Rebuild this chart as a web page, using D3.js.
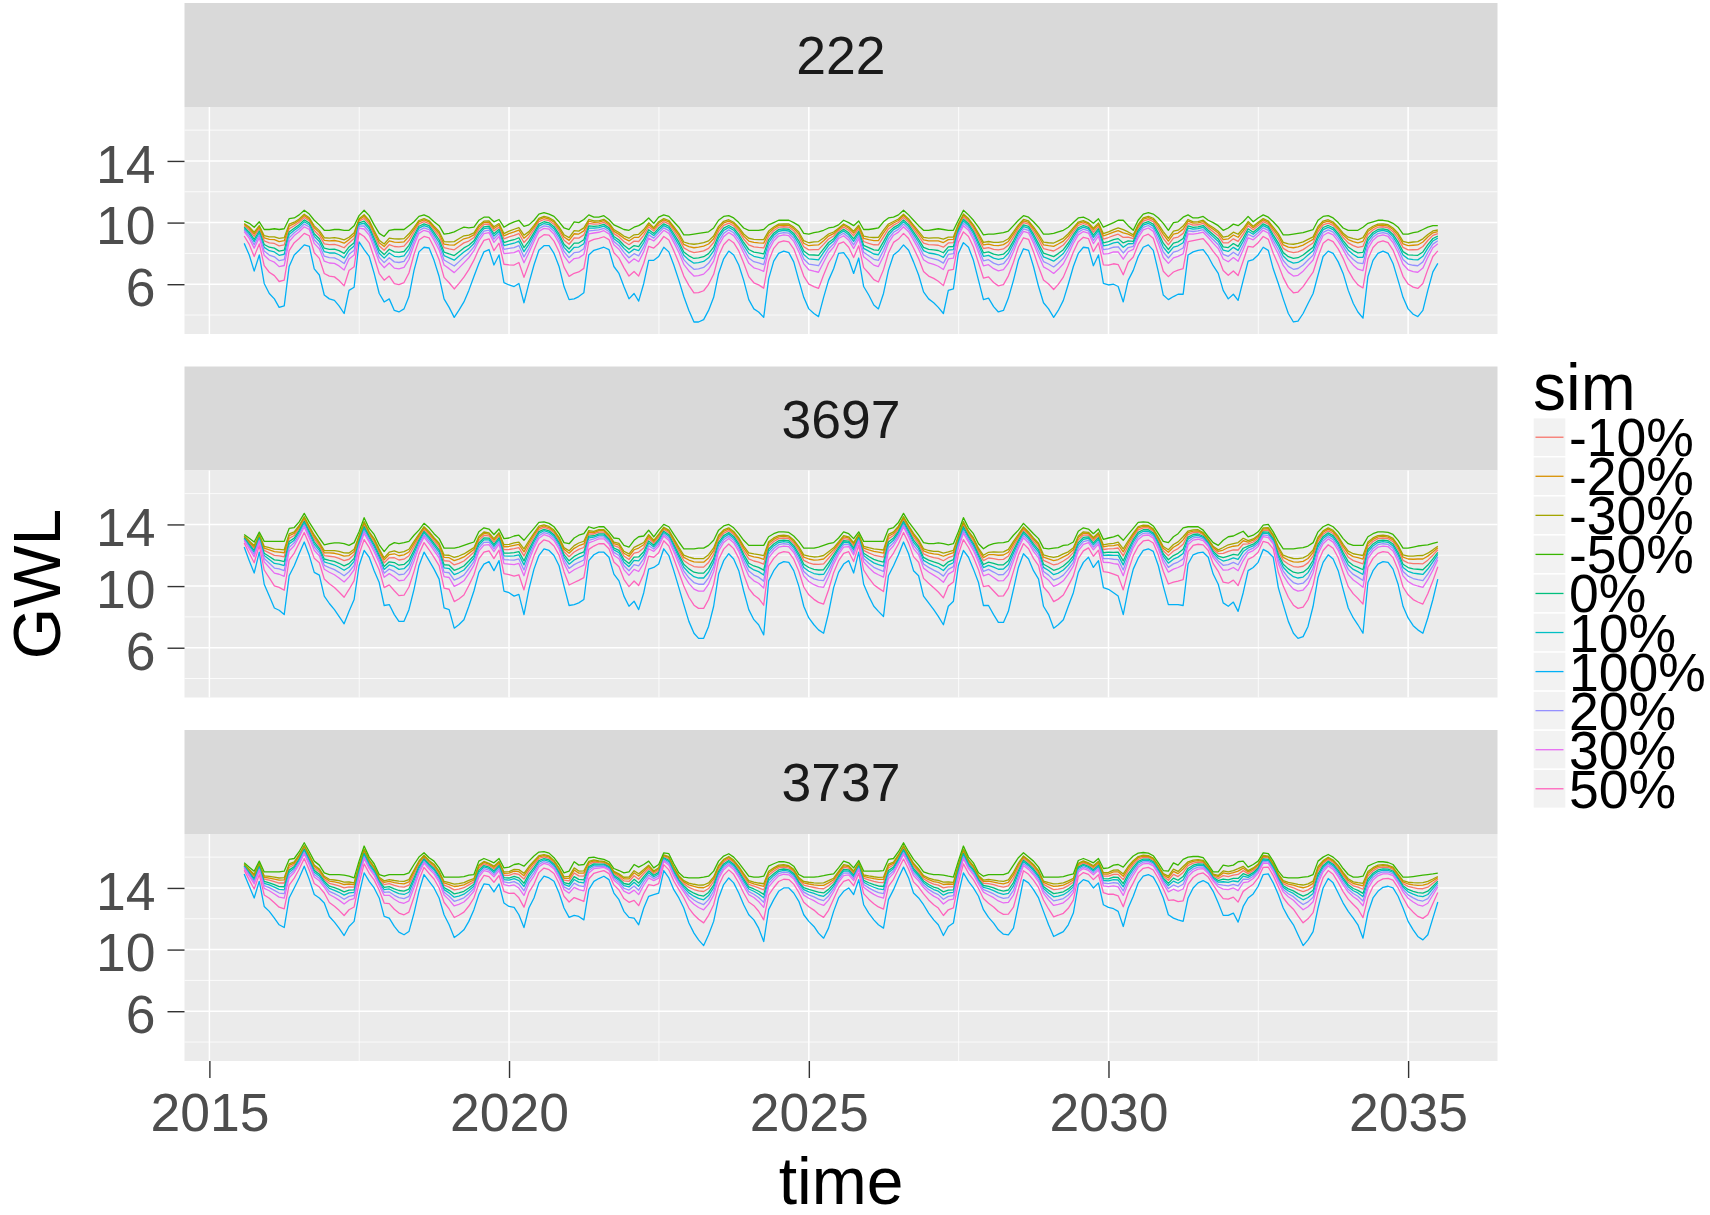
<!DOCTYPE html>
<html>
<head>
<meta charset="utf-8">
<script src="https://cdnjs.cloudflare.com/ajax/libs/d3/7.8.5/d3.min.js"></script>
<style>
  body { margin: 0; background: #fff; }
  text { font-family: "Liberation Sans", Arial, sans-serif; }
</style>
</head>
<body>
<svg width="1710" height="1215"></svg>
<script>
// monthly series, first value = Aug 2015
var firstMonth = new Date(2015, 7, 1);

var sites = ["222", "3697", "3737"];

// legend order (ggplot factor order) and colours
var sims = ["-10%", "-20%", "-30%", "-50%", "0%", "10%", "100%", "20%", "30%", "50%"];
var simColors = ["#F8766D", "#D89000", "#A3A500", "#39B600", "#00BF7D",
                 "#00BFC4", "#00B0F6", "#9590FF", "#E76BF3", "#FF62BC"];
var simShare = [0.21, 0.155, 0.115, 0, 0.277, 0.331, 1, 0.40, 0.477, 0.668];

// -50% run (highest line) and 100% run (lowest line) per site
var top222 = [
  10.1, 9.95, 9.7, 10.05, 9.55, 9.55, 9.6, 9.55, 9.6, 10.25,
  10.3, 10.5, 10.8, 10.55, 10.15, 9.85, 9.5, 9.5, 9.55, 9.55,
  9.5, 9.5, 9.8, 10.45, 10.8, 10.45, 9.85, 9.3, 9.1, 9.5,
  9.55, 9.55, 9.55, 9.8, 10.05, 10.4, 10.5, 10.35, 10.05, 9.8,
  9.25, 9.3, 9.4, 9.55, 9.7, 9.65, 9.7, 10.15, 10.35, 10.35,
  10.05, 10.2, 9.7, 9.9, 10.05, 10.15, 9.75, 9.85, 10.15, 10.55,
  10.65, 10.55, 10.4, 10.05, 9.65, 9.55, 10.05, 10.0, 10.2, 10.5,
  10.35, 10.35, 10.45, 10.2, 9.85, 9.7, 9.55, 9.5, 9.7, 9.8,
  10.0, 10.3, 9.95, 10.35, 10.5, 10.4, 10.05, 9.7, 9.2, 9.2,
  9.25, 9.3, 9.35, 9.4, 9.65, 10.15, 10.4, 10.45, 10.3, 10.0,
  9.65, 9.5, 9.5, 9.5, 9.55, 9.85, 10.0, 10.15, 10.15, 10.15,
  10.0, 9.8, 9.3, 9.25, 9.35, 9.4, 9.5, 9.65, 9.7, 9.85,
  10.15, 10.0, 9.8, 10.1, 9.55, 9.55, 9.6, 9.65, 10.05, 10.3,
  10.35, 10.5, 10.8, 10.5, 10.15, 9.8, 9.5, 9.5, 9.55, 9.6,
  9.55, 9.5, 9.5, 10.15, 10.8, 10.5, 10.15, 9.7, 9.2, 9.25,
  9.25, 9.3, 9.35, 9.45, 9.8, 10.15, 10.45, 10.35, 10.05, 9.7,
  9.25, 9.25, 9.3, 9.4, 9.5, 9.7, 10.0, 10.3, 10.35, 10.2,
  9.95, 10.25, 9.7, 9.85, 10.0, 10.15, 10.15, 9.8, 9.5, 10.15,
  10.55, 10.65, 10.55, 10.3, 9.95, 9.5, 10.0, 10.05, 10.35, 10.5,
  10.3, 10.3, 10.4, 10.15, 10.0, 9.8, 9.5, 9.65, 9.9, 9.8,
  10.05, 10.4, 10.05, 10.3, 10.5, 10.35, 10.05, 9.7, 9.2, 9.2,
  9.25, 9.3, 9.35, 9.45, 9.55, 10.15, 10.4, 10.45, 10.3, 10.0,
  9.65, 9.5, 9.5, 9.5, 9.7, 9.95, 10.05, 10.15, 10.15, 10.1,
  9.95, 9.7, 9.25, 9.25, 9.35, 9.4, 9.55, 9.7, 9.8, 9.8
];
var low222 = [
  8.65, 7.9, 6.85, 7.9, 6.05, 5.4, 5.05, 4.5, 4.6, 7.15,
  7.9, 8.2, 8.55, 8.45, 7.0, 6.6, 5.3, 5.05, 4.95, 4.6,
  4.1, 5.6, 5.8, 8.75, 8.25, 7.8, 6.7, 5.4, 4.85, 5.05,
  4.3, 4.2, 4.4, 5.2, 6.9, 8.1, 8.4, 8.35, 7.55, 6.5,
  5.05, 4.5, 3.85, 4.3, 4.85, 5.6, 6.5, 7.35, 8.1, 8.25,
  7.25, 7.9, 6.1, 5.95, 5.85, 6.05, 4.8, 6.05, 7.25, 8.2,
  8.5, 8.5, 8.0, 7.15, 5.85, 5.0, 5.05, 5.2, 5.45, 7.9,
  8.2, 8.3, 8.4, 8.25, 7.15, 6.7, 5.85, 5.05, 5.4, 4.9,
  6.05, 7.55, 7.55, 7.8, 8.4, 8.1, 7.25, 6.25, 5.2, 4.3,
  3.55, 3.55, 3.7, 4.3, 5.15, 6.7, 7.65, 8.15, 7.9, 7.25,
  6.25, 5.0, 4.4, 4.2, 3.85, 6.35, 7.5, 8.0, 8.15, 8.05,
  7.45, 6.25, 5.15, 4.4, 4.1, 3.9, 5.15, 6.25, 7.0, 8.0,
  8.05, 7.6, 6.7, 7.7, 5.85, 5.3, 4.65, 4.4, 5.4, 6.9,
  7.9, 8.15, 8.55, 8.2, 7.45, 6.6, 5.5, 5.05, 4.8, 4.5,
  4.1, 5.6, 5.7, 8.0, 8.7, 8.4, 7.55, 6.25, 5.0, 5.1,
  4.55, 4.2, 4.3, 5.1, 6.25, 7.55, 8.3, 8.2, 7.15, 5.85,
  4.8, 4.4, 3.85, 4.3, 4.95, 6.0, 7.15, 8.0, 8.4, 8.35,
  7.2, 7.9, 6.05, 5.95, 6.0, 5.85, 4.85, 6.25, 6.9, 7.8,
  8.4, 8.55, 8.2, 6.8, 5.3, 5.0, 5.2, 5.35, 5.35, 7.9,
  8.1, 8.2, 8.25, 7.8, 7.2, 6.7, 5.6, 5.05, 5.35, 4.95,
  6.25, 7.5, 7.6, 7.9, 8.4, 8.2, 7.0, 6.05, 5.05, 4.1,
  3.55, 3.6, 4.1, 4.75, 5.4, 6.6, 7.8, 8.15, 8.0, 7.45,
  6.7, 5.6, 4.75, 4.2, 3.8, 6.5, 7.55, 8.0, 8.15, 8.0,
  7.35, 6.25, 5.15, 4.4, 4.05, 3.9, 4.3, 5.6, 6.8, 7.35
];
var top3697 = [
  13.35, 13.1, 12.86, 13.5, 12.9, 12.9, 12.9, 12.9, 12.9, 13.74,
  13.8, 14.17, 14.72, 14.13, 13.63, 13.12, 12.68, 12.75, 12.8, 12.8,
  12.75, 12.64, 12.82, 13.52, 14.44, 13.74, 13.35, 12.68, 12.24, 12.64,
  12.82, 12.75, 12.82, 12.9, 13.3, 13.63, 14.07, 13.78, 13.4, 13.08,
  12.46, 12.46, 12.46, 12.53, 12.64, 12.75, 12.86, 13.52, 13.78, 13.7,
  13.35, 13.7, 13.08, 13.12, 13.25, 13.3, 12.97, 13.35, 13.74, 14.13,
  14.17, 14.07, 13.85, 13.4, 12.82, 12.75, 13.12, 13.3, 13.4, 13.85,
  13.74, 13.85, 13.85, 13.52, 13.12, 13.08, 12.64, 12.53, 12.97, 13.2,
  13.25, 13.63, 13.2, 13.63, 14.0, 13.85, 13.35, 12.86, 12.42, 12.42,
  12.42, 12.46, 12.46, 12.64, 12.97, 13.63, 13.9, 14.0, 13.78, 13.4,
  12.97, 12.64, 12.64, 12.64, 12.64, 13.2, 13.4, 13.52, 13.52, 13.48,
  13.25, 12.9, 12.46, 12.46, 12.46, 12.53, 12.64, 12.75, 12.82, 13.12,
  13.52, 13.4, 13.08, 13.52, 12.9, 12.9, 12.9, 12.9, 12.9, 13.7,
  13.8, 14.13, 14.72, 14.17, 13.74, 13.3, 12.82, 12.75, 12.75, 12.8,
  12.75, 12.68, 12.75, 13.52, 14.44, 13.78, 13.4, 12.75, 12.42, 12.64,
  12.75, 12.8, 12.82, 12.9, 13.3, 13.63, 14.07, 13.74, 13.4, 13.08,
  12.46, 12.42, 12.46, 12.5, 12.64, 12.68, 12.86, 13.56, 13.78, 13.7,
  13.4, 13.7, 13.03, 13.12, 13.19, 13.3, 12.97, 13.35, 13.74, 14.13,
  14.17, 14.13, 13.9, 13.4, 12.9, 12.82, 13.2, 13.4, 13.78, 13.85,
  13.85, 13.85, 13.63, 13.2, 12.82, 12.64, 12.97, 13.2, 13.25, 13.4,
  13.56, 13.2, 13.3, 13.52, 13.96, 14.0, 13.52, 12.9, 12.42, 12.42,
  12.42, 12.46, 12.5, 12.6, 12.82, 13.52, 13.85, 14.0, 13.85, 13.52,
  13.08, 12.75, 12.64, 12.64, 12.64, 13.2, 13.4, 13.52, 13.52, 13.48,
  13.35, 12.97, 12.46, 12.46, 12.53, 12.6, 12.64, 12.68, 12.77, 12.86
];
var low3697 = [
  12.53, 11.65, 10.85, 12.2, 10.12, 9.35, 8.58, 8.43, 8.15, 10.67,
  11.32, 12.1, 12.86, 11.98, 10.89, 10.71, 9.35, 8.87, 8.47, 8.03,
  7.55, 8.36, 9.13, 11.32, 12.31, 11.87, 11.0, 10.23, 8.74, 8.8,
  8.15, 7.71, 7.71, 8.47, 9.79, 11.32, 12.2, 11.65, 11.1, 10.45,
  8.58, 8.47, 7.27, 7.49, 7.82, 8.69, 9.68, 10.89, 11.43, 11.59,
  11.0, 11.65, 9.68, 9.57, 9.35, 9.46, 8.15, 9.79, 11.1, 11.98,
  12.42, 12.31, 11.98, 11.32, 10.0, 8.74, 8.8, 8.91, 9.13, 11.65,
  12.03, 12.2, 12.2, 11.87, 10.78, 10.34, 9.35, 8.69, 9.02, 8.47,
  9.57, 11.1, 11.21, 11.43, 12.42, 11.98, 11.0, 9.9, 8.8, 7.71,
  6.94, 6.61, 6.61, 7.38, 8.69, 10.78, 11.65, 12.1, 11.76, 11.0,
  9.68, 8.47, 7.82, 7.49, 6.83, 10.34, 11.0, 11.43, 11.59, 11.54,
  11.0, 10.0, 8.69, 7.93, 7.49, 7.16, 6.94, 8.25, 9.9, 10.89,
  11.43, 11.65, 10.85, 12.2, 10.12, 9.35, 8.69, 8.36, 8.03, 10.67,
  11.32, 12.03, 12.86, 12.1, 11.0, 10.67, 9.35, 8.91, 8.47, 8.03,
  7.49, 8.69, 9.02, 11.32, 12.31, 11.87, 11.1, 10.23, 8.74, 8.74,
  8.15, 7.64, 7.64, 8.36, 9.79, 11.21, 12.1, 11.76, 11.0, 10.45,
  8.69, 8.15, 7.27, 7.49, 7.82, 8.69, 9.57, 10.89, 11.54, 11.87,
  11.21, 11.65, 9.9, 9.79, 9.57, 9.35, 8.15, 9.79, 11.1, 11.81,
  12.31, 12.42, 12.25, 11.32, 10.0, 8.8, 8.8, 8.8, 8.74, 11.43,
  12.03, 12.15, 12.2, 11.87, 10.78, 10.12, 8.91, 8.69, 8.96, 8.36,
  9.57, 11.0, 11.21, 11.54, 12.38, 12.2, 11.87, 9.9, 8.8, 7.71,
  6.94, 6.61, 6.72, 7.38, 8.69, 10.56, 11.54, 12.03, 11.76, 11.0,
  9.79, 8.58, 7.93, 7.49, 6.94, 10.23, 11.0, 11.43, 11.59, 11.54,
  11.1, 10.12, 8.69, 7.93, 7.43, 7.16, 6.94, 7.93, 9.13, 10.45
];
var top3737 = [
  15.63, 15.35, 15.09, 15.74, 15.04, 15.04, 15.04, 15.04, 15.09, 15.85,
  15.91, 16.35, 16.93, 16.35, 15.74, 15.48, 14.98, 14.87, 14.87, 14.87,
  14.83, 14.76, 14.65, 15.74, 16.72, 16.0, 15.57, 14.87, 14.76, 14.87,
  14.87, 14.87, 14.87, 14.98, 15.52, 16.0, 16.28, 15.96, 15.74, 15.3,
  14.7, 14.7, 14.7, 14.7, 14.74, 14.83, 14.87, 15.74, 15.91, 15.78,
  15.63, 15.91, 15.3, 15.35, 15.52, 15.57, 15.41, 15.74, 16.07, 16.33,
  16.35, 16.26, 15.96, 15.52, 14.98, 15.09, 15.7, 15.48, 15.52, 15.96,
  16.0, 15.91, 15.85, 15.7, 15.26, 15.13, 14.98, 15.04, 15.52, 15.35,
  15.52, 15.74, 15.3, 15.52, 16.28, 16.22, 15.57, 14.98, 14.7, 14.65,
  14.65, 14.65, 14.7, 14.76, 15.09, 15.74, 16.07, 16.22, 16.0, 15.63,
  15.2, 14.76, 14.7, 14.7, 14.76, 15.41, 15.57, 15.7, 15.7, 15.63,
  15.41, 14.87, 14.7, 14.7, 14.7, 14.74, 14.8, 14.87, 14.91, 15.3,
  15.74, 15.63, 15.3, 15.78, 15.09, 15.09, 15.09, 15.09, 15.13, 15.85,
  15.91, 16.35, 16.93, 16.35, 15.85, 15.48, 15.04, 14.93, 14.87, 14.87,
  14.83, 14.76, 14.7, 15.74, 16.72, 16.0, 15.63, 14.98, 14.76, 14.87,
  14.87, 14.87, 14.87, 14.98, 15.48, 15.96, 16.28, 16.0, 15.74, 15.35,
  14.7, 14.7, 14.7, 14.7, 14.74, 14.83, 14.91, 15.78, 15.91, 15.78,
  15.63, 15.91, 15.26, 15.3, 15.48, 15.52, 15.35, 15.74, 16.07, 16.26,
  16.3, 16.26, 16.09, 15.63, 15.13, 15.09, 15.63, 15.48, 15.85, 16.0,
  16.04, 16.04, 15.96, 15.52, 15.04, 15.04, 15.48, 15.41, 15.48, 15.7,
  15.74, 15.35, 15.52, 15.74, 16.28, 16.22, 15.74, 15.09, 14.7, 14.65,
  14.65, 14.65, 14.7, 14.74, 14.87, 15.74, 16.0, 16.17, 16.0, 15.7,
  15.26, 14.87, 14.7, 14.7, 14.76, 15.41, 15.57, 15.7, 15.7, 15.65,
  15.52, 15.09, 14.7, 14.7, 14.74, 14.78, 14.83, 14.87, 14.91, 14.96
];
var low3737 = [
  14.91, 14.11, 13.35, 14.43, 12.8, 12.48, 12.04, 11.61, 11.43, 13.35,
  14.0, 14.65, 15.41, 14.54, 13.57, 13.35, 13.02, 12.15, 11.78, 11.39,
  10.91, 11.5, 11.83, 13.57, 14.98, 14.43, 14.0, 13.35, 12.15, 12.04,
  11.5, 11.13, 10.96, 11.17, 12.37, 13.78, 14.87, 14.43, 14.0, 13.35,
  12.26, 11.61, 10.78, 11.0, 11.28, 11.83, 12.59, 13.57, 14.26, 14.22,
  13.74, 14.26, 13.02, 12.8, 12.74, 12.26, 11.43, 12.7, 13.35, 14.33,
  14.76, 14.65, 14.43, 13.67, 12.7, 12.09, 12.22, 12.15, 11.93, 13.89,
  14.43, 14.61, 14.76, 14.54, 13.67, 13.24, 12.48, 12.09, 12.04, 11.61,
  12.7, 13.46, 13.57, 13.67, 15.13, 14.65, 13.89, 13.35, 12.7, 11.72,
  11.07, 10.63, 10.26, 10.96, 11.83, 13.35, 14.22, 14.65, 14.33, 13.67,
  12.91, 12.26, 11.93, 11.39, 10.52, 12.59, 13.24, 13.78, 14.0, 14.0,
  13.67, 13.13, 12.26, 11.83, 11.5, 11.07, 10.74, 11.39, 12.48, 13.35,
  13.78, 14.0, 13.57, 14.54, 12.91, 12.37, 11.93, 11.61, 11.39, 13.24,
  13.89, 14.65, 15.35, 14.65, 13.67, 13.35, 12.91, 12.37, 11.93, 11.61,
  10.91, 11.5, 11.72, 13.57, 14.98, 14.43, 14.0, 13.46, 12.59, 12.09,
  11.72, 11.28, 11.0, 10.96, 11.39, 12.91, 14.54, 14.33, 13.89, 13.35,
  12.48, 11.61, 10.85, 11.0, 11.17, 11.61, 12.37, 14.22, 14.54, 14.43,
  14.0, 14.33, 12.91, 12.74, 12.65, 12.48, 11.5, 12.7, 13.46, 14.33,
  14.76, 14.87, 14.7, 14.11, 13.35, 12.26, 12.04, 11.93, 11.83, 13.35,
  14.0, 14.33, 14.48, 14.3, 13.78, 13.02, 12.22, 12.22, 12.37, 11.78,
  12.8, 13.35, 13.61, 14.11, 14.87, 14.91, 14.33, 13.57, 12.7, 12.09,
  11.61, 10.96, 10.26, 10.63, 11.17, 12.7, 14.0, 14.61, 14.33, 13.67,
  13.02, 12.48, 12.04, 11.61, 10.74, 12.37, 13.35, 13.78, 14.04, 14.11,
  14.0, 13.46, 12.7, 11.83, 11.28, 10.85, 10.63, 10.96, 12.04, 13.09
];

var topRuns = [top222, top3697, top3737];
var lowRuns = [low222, low3697, low3737];

var yMajor = [6, 10, 14];
var yMinor = [4, 8, 12, 16];
var xYears = [2015, 2020, 2025, 2030, 2035];

var svg = d3.select("svg");

var plotLeft = 184.5, plotRight = 1497.5;
var stripTops = [3, 366.5, 730];
var stripH = 104, panelH = 227;

var months = top222.map(function(d, i) {
  return new Date(firstMonth.getFullYear(), firstMonth.getMonth() + i, 1);
});
var t0 = months[0].getTime(), t1 = months[months.length - 1].getTime();
var pad = (t1 - t0) * 0.05;

var x = d3.scaleTime()
    .domain([new Date(t0 - pad), new Date(t1 + pad)])
    .range([plotLeft, plotRight]);

var majorDates = xYears.map(function(y) { return new Date(y, 0, 1); });
var minorDates = [];
for (var k = 0; k < majorDates.length - 1; k++) {
  minorDates.push(new Date((majorDates[k].getTime() + majorDates[k + 1].getTime()) / 2));
}

sites.forEach(function(site, p) {
  var top = stripTops[p] + stripH;
  var y = d3.scaleLinear().domain([2.77, 17.5]).range([top + panelH, top]);

  // strip
  svg.append("rect")
      .attr("x", plotLeft).attr("y", stripTops[p])
      .attr("width", plotRight - plotLeft).attr("height", stripH)
      .attr("fill", "#D9D9D9");
  svg.append("text")
      .attr("x", (plotLeft + plotRight) / 2)
      .attr("y", stripTops[p] + stripH / 2 + 19)
      .attr("text-anchor", "middle")
      .attr("font-size", 53.5)
      .attr("fill", "#1A1A1A")
      .text(site);

  // panel background + grid
  var g = svg.append("g");
  g.append("rect")
      .attr("x", plotLeft).attr("y", top)
      .attr("width", plotRight - plotLeft).attr("height", panelH)
      .attr("fill", "#EBEBEB");

  g.selectAll(".hmin").data(yMinor).enter().append("line")
      .attr("x1", plotLeft).attr("x2", plotRight)
      .attr("y1", function(d) { return y(d); }).attr("y2", function(d) { return y(d); })
      .attr("stroke", "#fff").attr("stroke-width", 0.8);
  g.selectAll(".vmin").data(minorDates).enter().append("line")
      .attr("y1", top).attr("y2", top + panelH)
      .attr("x1", function(d) { return x(d); }).attr("x2", function(d) { return x(d); })
      .attr("stroke", "#fff").attr("stroke-width", 0.8);
  g.selectAll(".hmaj").data(yMajor).enter().append("line")
      .attr("x1", plotLeft).attr("x2", plotRight)
      .attr("y1", function(d) { return y(d); }).attr("y2", function(d) { return y(d); })
      .attr("stroke", "#fff").attr("stroke-width", 1.5);
  g.selectAll(".vmaj").data(majorDates).enter().append("line")
      .attr("y1", top).attr("y2", top + panelH)
      .attr("x1", function(d) { return x(d); }).attr("x2", function(d) { return x(d); })
      .attr("stroke", "#fff").attr("stroke-width", 1.5);

  // runs
  var line = d3.line()
      .x(function(d, i) { return x(months[i]); })
      .y(function(d) { return y(d); });

  sims.forEach(function(sim, s) {
    var vals = topRuns[p].map(function(t, i) {
      return t + simShare[s] * (lowRuns[p][i] - t);
    });
    g.append("path")
        .datum(vals)
        .attr("d", line)
        .attr("fill", "none")
        .attr("stroke", simColors[s])
        .attr("stroke-width", 1.3)
        .attr("stroke-linejoin", "round");
  });

  // y axis
  var ya = svg.append("g")
      .attr("transform", "translate(" + plotLeft + ",0)")
      .call(d3.axisLeft(y).tickValues(yMajor).tickSize(17).tickPadding(12));
  ya.select(".domain").remove();
  ya.selectAll("line").attr("stroke", "#333333").attr("stroke-width", 1.4);
  ya.selectAll("text")
      .attr("font-size", 53.5)
      .attr("font-family", "Liberation Sans, Arial, sans-serif")
      .attr("fill", "#4D4D4D")
      .attr("dy", "0.4em");

  if (p === sites.length - 1) {
    var xa = svg.append("g")
        .attr("transform", "translate(0," + (top + panelH) + ")")
        .call(d3.axisBottom(x).tickValues(majorDates)
          .tickFormat(d3.timeFormat("%Y")).tickSize(17).tickPadding(15));
    xa.select(".domain").remove();
    xa.selectAll("line").attr("stroke", "#333333").attr("stroke-width", 1.4);
    xa.selectAll("text")
        .attr("font-size", 53.5)
        .attr("font-family", "Liberation Sans, Arial, sans-serif")
        .attr("fill", "#4D4D4D");
  }
});

// axis titles
svg.append("text")
    .attr("x", (plotLeft + plotRight) / 2).attr("y", 1204)
    .attr("text-anchor", "middle")
    .attr("font-size", 66)
    .text("time");
svg.append("text")
    .attr("transform", "translate(60,584) rotate(-90)")
    .attr("text-anchor", "middle")
    .attr("font-size", 66)
    .text("GWL");

// legend
var legX = 1533, legY = 417.7, keyW = 33, keyH = 39.06;
svg.append("text")
    .attr("x", legX).attr("y", 410)
    .attr("font-size", 66)
    .text("sim");

var leg = svg.selectAll(".key").data(sims).enter().append("g")
    .attr("transform", function(d, i) { return "translate(" + legX + "," + (legY + i * keyH) + ")"; });
leg.append("rect")
    .attr("width", keyW).attr("height", keyH)
    .attr("fill", "#F2F2F2")
    .attr("stroke", "#fff").attr("stroke-width", 1.4);
leg.append("line")
    .attr("x1", 2.5).attr("x2", keyW - 2.5)
    .attr("y1", keyH / 2).attr("y2", keyH / 2)
    .attr("stroke", function(d, i) { return simColors[i]; })
    .attr("stroke-width", 1.3);
leg.append("text")
    .attr("x", keyW + 3).attr("y", keyH / 2 + 19)
    .attr("font-size", 53.5)
    .text(function(d) { return d; });
</script>
</body>
</html>
